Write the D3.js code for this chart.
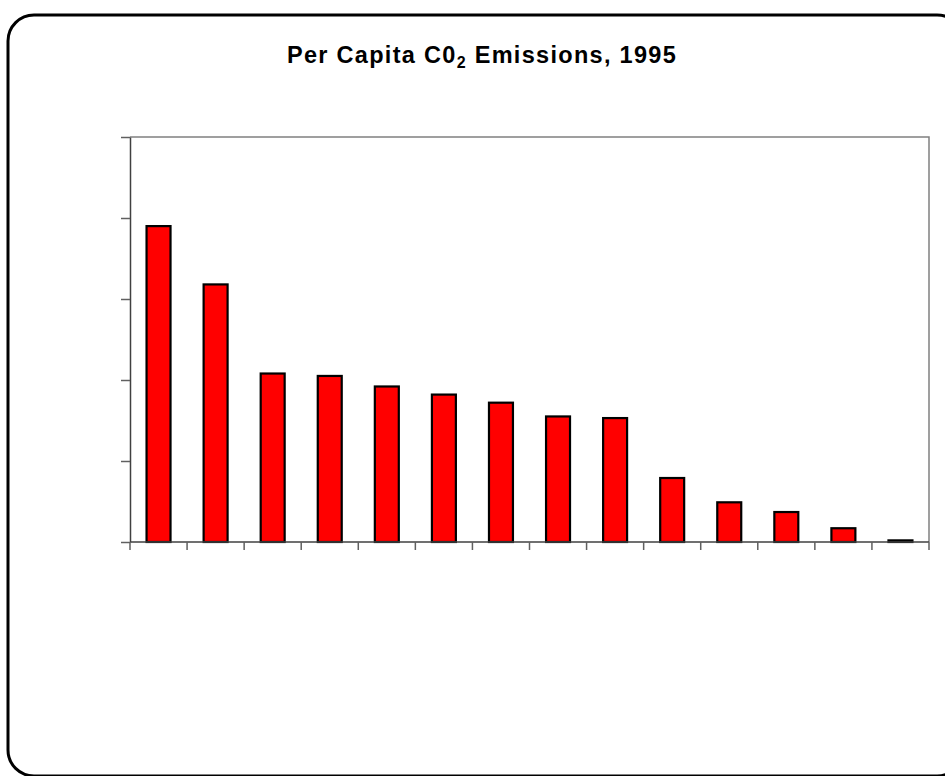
<!DOCTYPE html>
<html>
<head>
<meta charset="utf-8">
<script src="https://cdn.jsdelivr.net/npm/d3@7"></script>
<style>
  html, body { margin: 0; padding: 0; background: #fff; }
  svg { display: block; }
</style>
</head>
<body>
<svg id="chart" width="945" height="776"></svg>
<script>
// Per capita CO2 emissions, 1995 (tonnes per person), ranked high to low
const categories = ["1", "2", "3", "4", "5", "6", "7", "8", "9", "10", "11", "12", "13", "14"];
const values = [19.5, 15.9, 10.4, 10.25, 9.6, 9.1, 8.6, 7.75, 7.65, 3.95, 2.45, 1.85, 0.85, 0.1];
const yTicks = [0, 5, 10, 15, 20, 25];

const svg = d3.select("#chart");

// Rounded outer frame (runs past the right and bottom edges)
svg.append("rect")
  .attr("x", 8).attr("y", 15)
  .attr("width", 955).attr("height", 761)
  .attr("rx", 26).attr("ry", 26)
  .attr("fill", "#fff")
  .attr("stroke", "#000")
  .attr("stroke-width", 3);

// Title with subscript
const title = svg.append("text")
  .attr("x", 482).attr("y", 63)
  .attr("text-anchor", "middle")
  .attr("font-family", "Liberation Sans, Arial, sans-serif")
  .attr("font-size", 23.5)
  .attr("font-weight", "bold")
  .attr("letter-spacing", 1.3)
  .attr("fill", "#000");
title.append("tspan").text("Per Capita C0");
title.append("tspan").attr("font-size", 16).attr("dy", 5).text("2");
title.append("tspan").attr("dy", -5).text(" Emissions, 1995");

const plot = { left: 130, top: 137, right: 929, bottom: 542 };

const x = d3.scaleBand()
  .domain(categories)
  .range([plot.left, plot.right])
  .paddingInner(0.58)
  .paddingOuter(0.29);

const y = d3.scaleLinear()
  .domain([0, 25])
  .range([plot.bottom, plot.top]);

// Plot area outline (top and right in grey)
svg.append("path")
  .attr("d", `M${plot.left},${plot.top}H${plot.right}V${plot.bottom}`)
  .attr("fill", "none")
  .attr("stroke", "#808080")
  .attr("stroke-width", 1.5);

// Bars
svg.append("g")
  .selectAll("rect")
  .data(values)
  .join("rect")
  .attr("x", (d, i) => x(categories[i]))
  .attr("y", d => y(d))
  .attr("width", x.bandwidth())
  .attr("height", d => y(0) - y(d))
  .attr("fill", "#ff0000")
  .attr("stroke", "#000")
  .attr("stroke-width", 2.2);

// Y axis: tick marks only
const yAxis = svg.append("g")
  .attr("transform", `translate(${plot.left},0)`)
  .call(d3.axisLeft(y).tickValues(yTicks).tickSize(9).tickSizeOuter(0).tickFormat(""));
yAxis.select(".domain").attr("stroke", "#404040").attr("stroke-width", 1.5);
yAxis.selectAll(".tick line").attr("stroke", "#606060").attr("stroke-width", 1.5);

// X axis: ticks at category boundaries, no labels
const boundaries = categories.map((c, i) => plot.left + i * x.step()).concat([plot.right]);
const xb = svg.append("g");
xb.append("line")
  .attr("x1", plot.left).attr("x2", plot.right)
  .attr("y1", plot.bottom).attr("y2", plot.bottom)
  .attr("stroke", "#404040").attr("stroke-width", 1.5);
xb.selectAll("line.tick")
  .data(boundaries)
  .join("line")
  .attr("class", "tick")
  .attr("x1", d => d).attr("x2", d => d)
  .attr("y1", plot.bottom).attr("y2", plot.bottom + 8)
  .attr("stroke", "#606060").attr("stroke-width", 1.5);
</script>
</body>
</html>
